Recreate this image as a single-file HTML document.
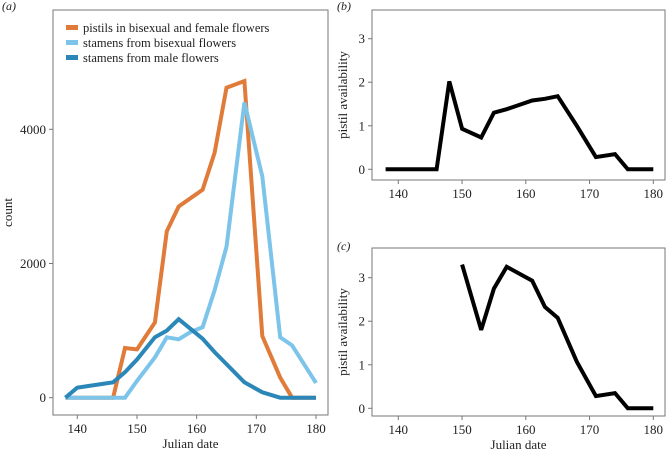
<!DOCTYPE html>
<html><head><meta charset="utf-8"><style>
body{margin:0;background:#fff}
svg{display:block}
text{font-family:"Liberation Serif",serif;fill:#222}
</style></head><body>
<svg id="chart" width="670" height="453" viewBox="0 0 670 453" xmlns="http://www.w3.org/2000/svg"></svg>
<script>
const days=[140,150,160,170,180];
const countTicks=[0,2000,4000];
const availTicks=[0,1,2,3];
const pistilX=[138,146,148,150,153,155,157,161,163,165,168,171,174,176,180];
const pistilY=[0,0,740,720,1120,2480,2850,3100,3650,4620,4720,920,300,0,0];
const bisexX=[138,148,150,153,155,157,159,161,163,165,168,171,174,176,180];
const bisexY=[0,0,250,600,900,870,980,1050,1600,2250,4400,3300,900,780,220];
const maleX=[138,140,146,148,150,153,155,157,161,163,165,168,171,174,180];
const maleY=[0,150,230,380,570,900,1000,1170,880,680,500,230,80,0,0];
const bX=[138,146,148,150,153,155,157,159,161,163,165,168,171,174,176,180];
const bY=[0,0,2.02,0.93,0.73,1.3,1.38,1.48,1.58,1.62,1.68,1.0,0.28,0.35,0,0];
const cX=[150,153,155,157,161,163,165,168,171,174,176,180];
const cY=[3.3,1.8,2.75,3.25,2.93,2.33,2.08,1.07,0.28,0.35,0,0];
const legendLabels=["pistils in bisexual and female flowers","stamens from bisexual flowers","stamens from male flowers"];
const legendColors=["#e07b39","#7cc4ea","#2a87b8"];

const NS="http://www.w3.org/2000/svg";
const svg=document.getElementById('chart');
function mk(tag,attrs,parent){const e=document.createElementNS(NS,tag);for(const k in attrs)e.setAttribute(k,attrs[k]);(parent||svg).appendChild(e);return e;}

function panel(name,box,xs,ys,xticks,yticks,yFmt,ylabel,letter,showXLabel){
  const g=mk('g',{});
  
  
  const X=v=>xs.p0+(v-xs.v0)*(xs.p1-xs.p0)/(xs.v1-xs.v0);
  const Y=v=>ys.p0+(v-ys.v0)*(ys.p1-ys.p0)/(ys.v1-ys.v0);
  const fr=mk('rect',{x:box.x0,y:box.y0,width:box.x1-box.x0,height:box.y1-box.y0,fill:'none',stroke:'#777','stroke-width':1},g);
  
  
  xticks.forEach(t=>{
    mk('line',{x1:X(t),x2:X(t),y1:box.y1,y2:box.y1+4,stroke:'#777'},g);
    const tx=mk('text',{x:X(t),y:box.y1+18,'text-anchor':'middle','font-size':13},g);
    tx.textContent=t;
    
    
  });
  yticks.forEach(t=>{
    mk('line',{x1:box.x0-4,x2:box.x0,y1:Y(t),y2:Y(t),stroke:'#777'},g);
    const tx=mk('text',{x:box.x0-7,y:Y(t)+4.5,'text-anchor':'end','font-size':13},g);
    tx.textContent=yFmt(t);
    
    
  });
  const cy=(box.y0+box.y1)/2;
  const yl=mk('text',{x:0,y:0,transform:`translate(${box.x0-ylabel.off},${cy}) rotate(-90)`,'text-anchor':'middle','font-size':13},g);
  yl.textContent=ylabel.text;
  
  
  if(showXLabel){
    const xl=mk('text',{x:(box.x0+box.x1)/2,y:box.y1+33,'text-anchor':'middle','font-size':13},g);
    xl.textContent='Julian date';
    
    
  }
  const lt=mk('text',{x:letter.x,y:letter.y,'font-size':12,'font-style':'italic'},g);
  lt.textContent=letter.t;
  
  
  return {g,X,Y};
}
function line(p,xv,yv,color,name,w){
  const d=xv.map((x,i)=>(i?'L':'M')+p.X(x).toFixed(1)+','+p.Y(yv[i]).toFixed(1)).join('');
  const path=mk('path',{d:d,fill:'none',stroke:color,'stroke-width':w,'stroke-linejoin':'miter','stroke-miterlimit':3},p.g);
  
  
}

// Panel A
const pa=panel('panel-a',{x0:53,y0:10,x1:328,y1:415},
  {v0:140,v1:180,p0:77.3,p1:316},{v0:0,v1:4000,p0:397.7,p1:129.3},
  days,countTicks,t=>t,{text:'count',off:41},{t:'(a)',x:2,y:10},true);
line(pa,pistilX,pistilY,legendColors[0],'series-pistils',4);
line(pa,bisexX,bisexY,legendColors[1],'series-stamens-bisexual',4);
line(pa,maleX,maleY,legendColors[2],'series-stamens-male',4);
legendLabels.forEach((lab,i)=>{
  const y=28+i*15;
  const sw=mk('rect',{x:66,y:y-3,width:12,height:5,fill:legendColors[i]},pa.g);
  
  
  const t=mk('text',{x:83,y:y+4,'font-size':12.5},pa.g);
  t.textContent=lab;
  
  
});

// Panel B
const pb=panel('panel-b',{x0:372,y0:10,x1:665,y1:180},
  {v0:140,v1:180,p0:398.3,p1:653.3},{v0:0,v1:3,p0:169.3,p1:38.7},
  days,availTicks,t=>t,{text:'pistil availability',off:25},{t:'(b)',x:337,y:10},false);
line(pb,bX,bY,'#000','series-b',4);

// Panel C
const pc=panel('panel-c',{x0:372,y0:248,x1:665,y1:416},
  {v0:140,v1:180,p0:398.3,p1:653.3},{v0:0,v1:3,p0:408.3,p1:277.7},
  days,availTicks,t=>t,{text:'pistil availability',off:25},{t:'(c)',x:337,y:250},true);
line(pc,cX,cY,'#000','series-c',4);
</script>
</body></html>
